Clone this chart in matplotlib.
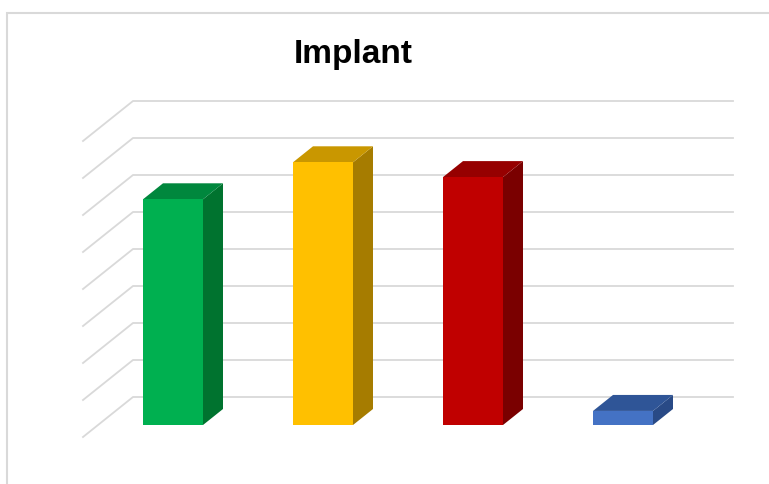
import matplotlib
matplotlib.use("Agg")
import matplotlib.pyplot as plt
from matplotlib.patches import Polygon, Rectangle
from matplotlib.lines import Line2D

# ---- data ----
categories = ["A", "B", "C", "D"]
values = [61, 71, 67, 3.8]
front_colors = ["#00B050", "#FFC000", "#C00000", "#4472C4"]
top_colors = ["#00873D", "#C99700", "#960000", "#2F5597"]
side_colors = ["#00732F", "#A67C00", "#7A0000", "#294A86"]
grid_values = [0, 10, 20, 30, 40, 50, 60, 70, 80]
title = "Implant"

W, H, DPI = 769, 484, 100
fig = plt.figure(figsize=(W / DPI, H / DPI), dpi=DPI)
ax = fig.add_axes([0, 0, 1, 1])
ax.set_xlim(-158 / 150, (W - 158) / 150)
ax.set_ylim((437 - H) / 3.7, 437 / 3.7)
ax.axis("off")

DX, DY = 50 / 150, 40 / 3.7  # oblique depth offsets in data units


def proj(x, v, d):
    return (x + d * DX, v + d * DY)


n = len(categories)
# gridlines: left wall diagonal + back wall horizontal
for g in grid_values:
    pts = [proj(-0.5, g, 0), proj(-0.5, g, 1), proj(n - 0.5, g, 1)]
    ax.add_line(Line2D([p[0] for p in pts], [p[1] for p in pts],
                       color="#d9d9d9", lw=1.3, zorder=1))

hw, d0, d1 = 0.2, 0.3, 0.7
for i, v in enumerate(values):
    front = [proj(i - hw, 0, d0), proj(i + hw, 0, d0), proj(i + hw, v, d0), proj(i - hw, v, d0)]
    top = [proj(i - hw, v, d0), proj(i + hw, v, d0), proj(i + hw, v, d1), proj(i - hw, v, d1)]
    side = [proj(i + hw, 0, d0), proj(i + hw, v, d0), proj(i + hw, v, d1), proj(i + hw, 0, d1)]
    ax.add_patch(Polygon(side, closed=True, fc=side_colors[i], ec="none", zorder=3))
    ax.add_patch(Polygon(top, closed=True, fc=top_colors[i], ec="none", zorder=3))
    ax.add_patch(Polygon(front, closed=True, fc=front_colors[i], ec="none", zorder=4))

# chart border (extends past right/bottom edges)
fig.patches.append(Rectangle((7 / W, -0.1), 1.2, 1 - 13 / H + 0.1, transform=fig.transFigure,
                             fill=False, ec="#d9d9d9", lw=1.5, zorder=0))

fig.text(353 / W, 1 - 63 / H, title, ha="center", va="baseline", fontsize=24,
         fontweight="bold", family=["Liberation Sans Narrow", "Liberation Sans", "DejaVu Sans"])

fig.savefig("out.png", dpi=DPI)
